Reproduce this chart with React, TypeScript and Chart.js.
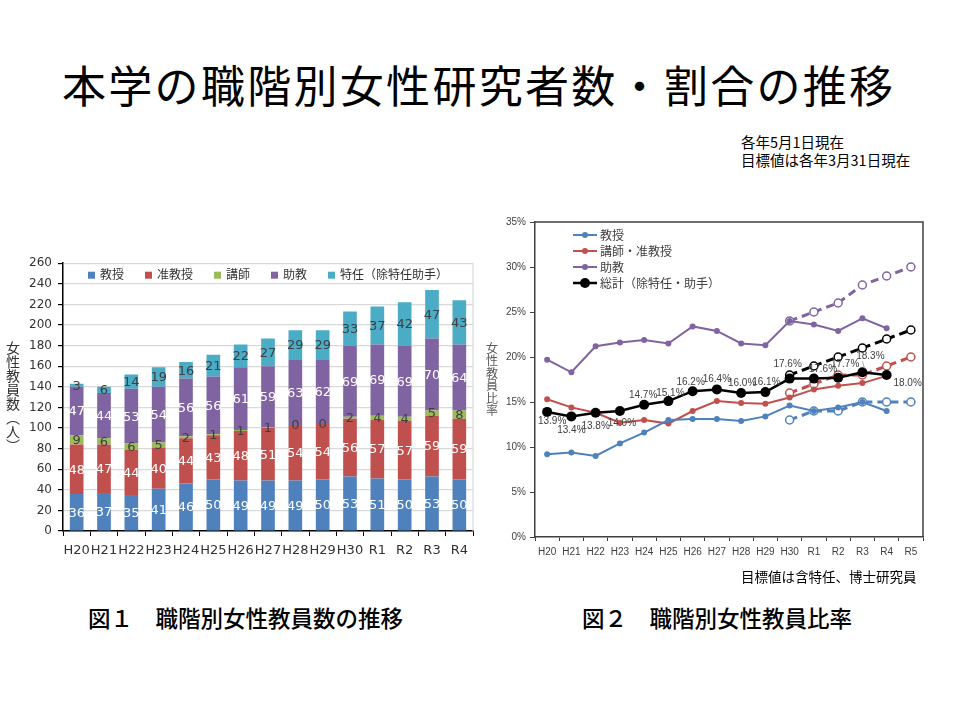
import React, { useEffect, useRef } from "react";
import { Chart, registerables } from "chart.js";

Chart.register(...registerables);

// ---------- Figure 1 data (counts) ----------
const yearsCount = ["H20", "H21", "H22", "H23", "H24", "H25", "H26", "H27", "H28", "H29", "H30", "R1", "R2", "R3", "R4"];
const professors = [36, 37, 35, 41, 46, 50, 49, 49, 49, 50, 53, 51, 50, 53, 50];
const assocProfessors = [48, 47, 44, 40, 44, 43, 48, 51, 54, 54, 56, 57, 57, 59, 59];
const lecturers = [9, 6, 6, 5, 2, 1, 1, 1, 0, 0, 2, 4, 4, 5, 8];
const assistants = [47, 44, 53, 54, 56, 56, 61, 59, 63, 62, 69, 69, 69, 70, 64];
const specialAppointed = [3, 6, 14, 19, 16, 21, 22, 27, 29, 29, 33, 37, 42, 47, 43];
const countAxisMax = 260;
const countAxisStep = 20;

// ---------- Figure 2 data (ratios, %) ----------
const yearsRate = ["H20", "H21", "H22", "H23", "H24", "H25", "H26", "H27", "H28", "H29", "H30", "R1", "R2", "R3", "R4", "R5"];
const rateProf = [9.2, 9.4, 9.0, 10.4, 11.6, 13.0, 13.1, 13.1, 12.9, 13.4, 14.6, 14.0, 14.4, 15.0, 14.0, null];
const rateProfTarget = [null, null, null, null, null, null, null, null, null, null, 13.0, 14.0, 14.0, 15.0, 15.0, 15.0];
const rateAssoc = [15.3, 14.4, 13.8, 12.7, 13.0, 12.6, 14.0, 15.1, 14.9, 14.8, 15.5, 16.4, 16.8, 17.1, 17.9, null];
const rateAssocTarget = [null, null, null, null, null, null, null, null, null, null, 16.0, 17.0, 18.0, 18.0, 19.0, 20.0];
const rateAssist = [19.7, 18.3, 21.2, 21.6, 21.9, 21.5, 23.4, 22.9, 21.5, 21.3, 24.0, 23.6, 22.9, 24.3, 23.2, null];
const rateAssistTarget = [null, null, null, null, null, null, null, null, null, null, 24.0, 25.0, 26.0, 28.0, 29.0, 30.0];
const rateTotal = [13.9, 13.4, 13.8, 14.0, 14.7, 15.1, 16.2, 16.4, 16.0, 16.1, 17.6, 17.6, 17.7, 18.3, 18.0, null];
const rateTotalTarget = [null, null, null, null, null, null, null, null, null, null, 18.0, 19.0, 20.0, 21.0, 22.0, 23.0];
const rateAxisMax = 35;
const rateAxisStep = 5;

// ---------- styles ----------
const C_PROF = "#4F81BD";
const C_ASSOC = "#C0504D";
const C_LECT = "#9BBB59";
const C_ASSIST = "#8064A2";
const C_SPEC = "#4BACC6";
const CJK = '"Noto Sans CJK JP"';

// label colours per stacked segment (white on dark bars)
const segLabelColors = ["#FFFFFF", "#FFFFFF", "#404040", "#FFFFFF", "#404040"];
// offsets [dx, dy, leader] for total-ratio labels
const totalLabelOffsets: [number, number, number][] = [
  [5, 9, 0], [0, 14, 0], [0, 13, 0], [2, 12, 0], [-1, -9, 0], [2, -8, 0], [-2, -9, 0], [0, -10, 0],
  [1, -10, 0], [1, -10, 0], [-2, -14, 0], [9, -9, 0], [7, -13, 0], [8, -16, 1], [21, 8, 0],
];

const verticalTitle = (id: string, text: string[], x: number, size: number, step: number, color: string) => ({
  id,
  afterDraw(chart: any) {
    const { ctx, chartArea } = chart;
    const mid = (chartArea.top + chartArea.bottom) / 2;
    const start = mid - (step * (text.length - 1)) / 2;
    ctx.save();
    ctx.font = `${size}px ${CJK}`;
    ctx.fillStyle = color;
    ctx.textAlign = "center";
    ctx.textBaseline = "middle";
    text.forEach((ch, i) => ctx.fillText(ch, x, start + i * step));
    ctx.restore();
  },
});

const barLabelPlugin = {
  id: "barLabels",
  afterDatasetsDraw(chart: any) {
    const { ctx } = chart;
    ctx.save();
    ctx.font = '13px "DejaVu Sans"';
    ctx.textAlign = "center";
    ctx.textBaseline = "middle";
    chart.data.datasets.forEach((ds: any, i: number) => {
      const meta = chart.getDatasetMeta(i);
      meta.data.forEach((el: any, j: number) => {
        const p = el.getProps(["x", "y", "base"], true);
        ctx.fillStyle = segLabelColors[i];
        ctx.fillText(String(ds.data[j]), p.x, (p.y + p.base) / 2 + 1);
      });
    });
    ctx.restore();
  },
};

const barLegendPlugin = {
  id: "barLegend",
  afterDraw(chart: any) {
    const { ctx, chartArea } = chart;
    ctx.save();
    ctx.font = `12px ${CJK}`;
    ctx.textBaseline = "middle";
    const box = 7, gap = 5, spacing = 21;
    const items = chart.data.datasets.map((d: any) => ({ t: d.label, c: d.backgroundColor, w: box + gap + ctx.measureText(d.label).width }));
    const total = items.reduce((s: number, it: any) => s + it.w, 0) + spacing * (items.length - 1);
    let x = (chartArea.left + chartArea.right) / 2 - total / 2;
    const y = chartArea.top + 11;
    items.forEach((it: any) => {
      ctx.fillStyle = it.c;
      ctx.fillRect(x, y - box / 2 + 1, box, box);
      ctx.fillStyle = "#333333";
      ctx.fillText(it.t, x + box + gap, y);
      x += it.w + spacing;
    });
    ctx.restore();
  },
};

const rightBorderPlugin = (id: string, color: string, width: number, top: boolean) => ({
  id,
  beforeDatasetsDraw(chart: any) {
    const { ctx, chartArea } = chart;
    ctx.save();
    ctx.strokeStyle = color;
    ctx.lineWidth = width;
    ctx.beginPath();
    if (top) {
      ctx.moveTo(chartArea.left, chartArea.top);
      ctx.lineTo(chartArea.right, chartArea.top);
    } else {
      ctx.moveTo(chartArea.right, chartArea.top);
    }
    ctx.lineTo(chartArea.right, chartArea.bottom);
    ctx.stroke();
    ctx.restore();
  },
});

const lineLegendPlugin = {
  id: "lineLegend",
  afterDraw(chart: any) {
    const { ctx, chartArea } = chart;
    ctx.save();
    ctx.font = `12px ${CJK}`;
    ctx.textBaseline = "middle";
    const items = chart.data.datasets.filter((d: any) => d.inLegend).sort((a: any, b: any) => a.legendOrder - b.legendOrder);
    items.forEach((d: any, i: number) => {
      const x0 = chartArea.left + 38;
      const y = chartArea.top + 13 + i * 16;
      ctx.strokeStyle = d.borderColor;
      ctx.lineWidth = d.borderWidth;
      ctx.beginPath();
      ctx.moveTo(x0, y);
      ctx.lineTo(x0 + 24, y);
      ctx.stroke();
      ctx.fillStyle = d.pointBackgroundColor;
      ctx.beginPath();
      ctx.arc(x0 + 12, y, d.pointRadius, 0, Math.PI * 2);
      ctx.fill();
      ctx.fillStyle = "#404040";
      ctx.fillText(d.label, x0 + 27, y);
    });
    ctx.restore();
  },
};

const totalLabelPlugin = {
  id: "totalLabels",
  afterDatasetsDraw(chart: any) {
    const { ctx } = chart;
    const idx = chart.data.datasets.findIndex((d: any) => d.showValues);
    if (idx < 0) return;
    const meta = chart.getDatasetMeta(idx);
    const ds = chart.data.datasets[idx];
    ctx.save();
    ctx.font = '10px "Liberation Sans"';
    ctx.textAlign = "center";
    ctx.textBaseline = "middle";
    meta.data.forEach((el: any, j: number) => {
      const v = ds.data[j];
      if (v === null || v === undefined) return;
      const off = totalLabelOffsets[j] || [0, -10, 0];
      const lx = el.x + off[0], ly = el.y + off[1];
      if (off[2]) {
        ctx.strokeStyle = "#A6A6A6";
        ctx.lineWidth = 1;
        ctx.beginPath();
        ctx.moveTo(lx - 8, ly + 5);
        ctx.lineTo(el.x + 2, el.y - 4);
        ctx.stroke();
      }
      ctx.fillStyle = "#404040";
      ctx.fillText(v.toFixed(1) + "%", lx, ly);
    });
    ctx.restore();
  },
};

function CountChart() {
  const ref = useRef<HTMLCanvasElement>(null);
  useEffect(() => {
    if (!ref.current) return;
    const chart = new Chart(ref.current, {
      type: "bar",
      data: {
        labels: yearsCount,
        datasets: [
          { label: "教授", data: professors, backgroundColor: C_PROF },
          { label: "准教授", data: assocProfessors, backgroundColor: C_ASSOC },
          { label: "講師", data: lecturers, backgroundColor: C_LECT },
          { label: "助教", data: assistants, backgroundColor: C_ASSIST },
          { label: "特任（除特任助手）", data: specialAppointed, backgroundColor: C_SPEC },
        ],
      },
      options: {
        responsive: false,
        maintainAspectRatio: false,
        animation: false,
        datasets: { bar: { categoryPercentage: 1, barPercentage: 0.5 } },
        layout: { padding: { left: 0, right: 17, top: 12, bottom: 0 } },
        plugins: { legend: { display: false }, tooltip: { enabled: false } },
        scales: {
          x: {
            stacked: true,
            grid: { display: true, drawOnChartArea: false, drawTicks: true, tickLength: 5, color: "#000000", offset: true },
            border: { color: "#000000", width: 1.5 },
            ticks: { font: { family: "DejaVu Sans", size: 13 }, color: "#333333", padding: 7, maxRotation: 0, minRotation: 0, autoSkip: false },
            afterFit: (s: any) => { s.height = 39; },
          },
          y: {
            stacked: true,
            min: 0,
            max: countAxisMax,
            ticks: { stepSize: countAxisStep, font: { family: "DejaVu Sans", size: 12 }, color: "#333333", padding: 6 },
            grid: { color: "#D9D9D9", tickColor: "#000000", tickLength: 5, lineWidth: 1.2 },
            border: { color: "#000000", width: 1.5 },
            afterFit: (s: any) => { s.width = 63; },
          },
        },
      } as any,
      plugins: [
        rightBorderPlugin("frameL", "#D9D9D9", 1.2, false),
        barLabelPlugin,
        barLegendPlugin,
        verticalTitle("ytitleL", ["女", "性", "教", "員", "数", "︵", "人", "︶"], 13, 14, 14, "#333333"),
      ],
    });
    return () => chart.destroy();
  }, []);
  return <canvas ref={ref} width={490} height={320} style={{ position: "absolute", left: 0, top: 250, width: 490, height: 320 }} />;
}

function RateChart() {
  const ref = useRef<HTMLCanvasElement>(null);
  useEffect(() => {
    if (!ref.current) return;
    const solid = (label: string, data: any[], color: string, order: number, big = false) => ({
      label,
      data,
      borderColor: color,
      backgroundColor: color,
      borderWidth: big ? 2.5 : 2,
      pointRadius: big ? 5 : 3,
      pointBackgroundColor: color,
      pointBorderColor: color,
      pointBorderWidth: 0,
      tension: 0,
      inLegend: true,
      legendOrder: order,
    });
    const dashed = (label: string, data: any[], color: string) => ({
      label,
      data,
      borderColor: color,
      backgroundColor: "#FFFFFF",
      borderWidth: 3,
      borderDash: [8, 5],
      pointRadius: 4,
      pointBackgroundColor: "#FFFFFF",
      pointBorderColor: color,
      pointBorderWidth: 1.5,
      tension: 0,
    });
    const chart = new Chart(ref.current, {
      type: "line",
      data: {
        labels: yearsRate,
        datasets: [
          { ...solid("総計（除特任・助手）", rateTotal, "#000000", 3, true), showValues: true },
          dashed("総計目標", rateTotalTarget, "#000000"),
          solid("教授", rateProf, C_PROF, 0),
          dashed("教授目標", rateProfTarget, C_PROF),
          solid("講師・准教授", rateAssoc, C_ASSOC, 1),
          dashed("講師・准教授目標", rateAssocTarget, C_ASSOC),
          solid("助教", rateAssist, C_ASSIST, 2),
          dashed("助教目標", rateAssistTarget, C_ASSIST),
        ] as any,
      },
      options: {
        responsive: false,
        maintainAspectRatio: false,
        animation: false,
        layout: { padding: { left: 0, right: 17, top: 17, bottom: 0 } },
        plugins: { legend: { display: false }, tooltip: { enabled: false } },
        scales: {
          x: {
            offset: true,
            grid: { display: true, offset: true, drawOnChartArea: false, tickLength: 4, color: "#404040" },
            border: { color: "#404040", width: 1.5 },
            ticks: { font: { family: "Liberation Sans", size: 10 }, color: "#404040", padding: 5, maxRotation: 0, minRotation: 0, autoSkip: false },
            afterFit: (s: any) => { s.height = 38; },
          },
          y: {
            min: 0,
            max: rateAxisMax,
            ticks: { stepSize: rateAxisStep, callback: (v: any) => v + "%", font: { family: "Liberation Sans", size: 10 }, color: "#404040", padding: 4 },
            grid: { drawOnChartArea: false, tickLength: 5, color: "#404040" },
            border: { color: "#404040", width: 1.5 },
            afterFit: (s: any) => { s.width = 55; },
          },
        },
      } as any,
      plugins: [
        rightBorderPlugin("frameR", "#404040", 1.5, true),
        totalLabelPlugin,
        lineLegendPlugin,
        verticalTitle("ytitleR", ["女", "性", "教", "員", "比", "率"], 12, 12, 12.4, "#595959"),
      ],
    });
    return () => chart.destroy();
  }, []);
  return <canvas ref={ref} width={460} height={370} style={{ position: "absolute", left: 480, top: 205, width: 460, height: 370 }} />;
}

export default function App() {
  const cjk = "'Noto Sans CJK JP', sans-serif";
  return (
    <div style={{ position: "absolute", left: 0, top: 0, width: 960, height: 720, background: "#FFFFFF", overflow: "hidden", fontFamily: cjk }}>
      <div style={{ position: "absolute", left: 62, top: 54, height: 60, lineHeight: "60px", fontSize: 44, letterSpacing: "2.3px", color: "#000", whiteSpace: "nowrap" }}>
        本学の職階別女性研究者数・割合の推移
      </div>
      <div style={{ position: "absolute", left: 741, top: 133, fontSize: 14.5, lineHeight: "18px", color: "#000", whiteSpace: "nowrap" }}>
        各年5月1日現在
        <br />
        目標値は各年3月31日現在
      </div>
      <CountChart />
      <RateChart />
      <div style={{ position: "absolute", left: 741, top: 567, fontSize: 13.5, lineHeight: "18px", color: "#000", whiteSpace: "nowrap" }}>
        目標値は含特任、博士研究員
      </div>
      <div style={{ position: "absolute", left: 88, top: 603, fontSize: 22.5, lineHeight: "28px", fontWeight: 500, color: "#000", whiteSpace: "nowrap" }}>
        図１　職階別女性教員数の推移
      </div>
      <div style={{ position: "absolute", left: 582, top: 603, fontSize: 22.5, lineHeight: "28px", fontWeight: 500, color: "#000", whiteSpace: "nowrap" }}>
        図２　職階別女性教員比率
      </div>
    </div>
  );
}
